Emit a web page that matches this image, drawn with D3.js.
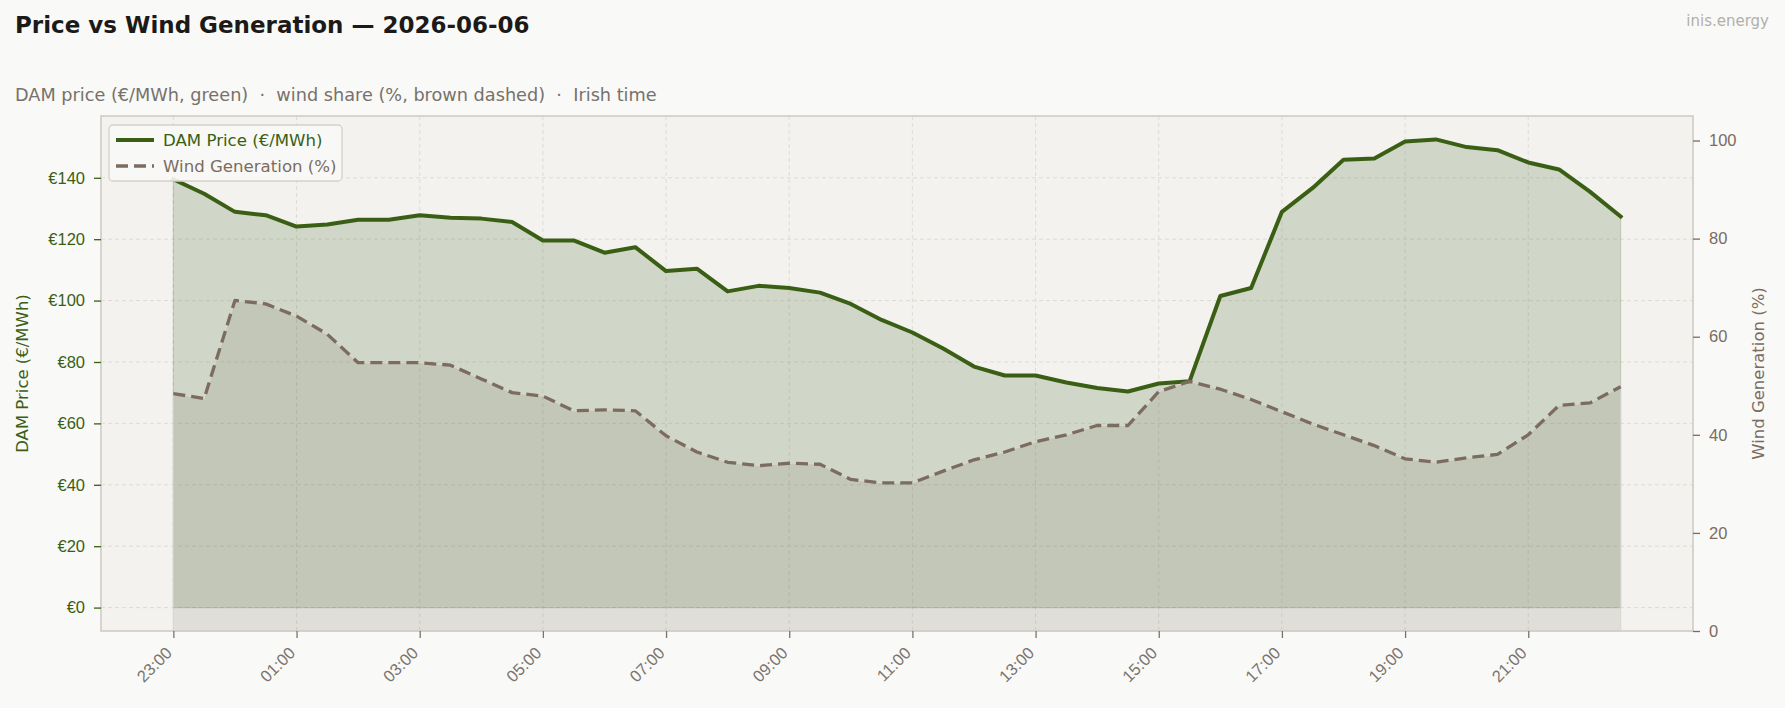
<!DOCTYPE html>
<meta charset="utf-8">
<html>
<head>
  <title>Price vs Wind Generation</title>
  <script src="https://cdn.jsdelivr.net/npm/d3@7"></script>
</head>
<style>
  body { margin: 0; background-color: #f9f9f7; }
  svg { display: block; font-family: 'DejaVu Sans', sans-serif; }
  .pre { white-space: pre; }
</style>
<body>
<div id="chart"></div>
<script>

  // half-hourly slots, Irish time
  var times = ["23:00","23:30","00:00","00:30","01:00","01:30","02:00","02:30",
               "03:00","03:30","04:00","04:30","05:00","05:30","06:00","06:30",
               "07:00","07:30","08:00","08:30","09:00","09:30","10:00","10:30",
               "11:00","11:30","12:00","12:30","13:00","13:30","14:00","14:30",
               "15:00","15:30","16:00","16:30","17:00","17:30","18:00","18:30",
               "19:00","19:30","20:00","20:30","21:00","21:30","22:00","22:30"];

  // DAM price, €/MWh
  var price = [139.5,134.8,128.9,127.8,124.1,124.8,126.3,126.3,
               127.8,127.0,126.7,125.6,119.6,119.6,115.6,117.4,
               109.6,110.4,103.0,104.8,104.1,102.6,98.9,93.7,
               89.6,84.4,78.5,75.6,75.6,73.3,71.5,70.4,
               73.0,73.7,101.5,104.1,128.9,136.7,145.9,146.3,
               151.8,152.5,150.0,149.0,145.0,142.7,135.5,127.4];

  // wind share of generation, %
  var wind = [48.4,47.4,67.4,66.7,64.2,60.5,54.7,54.7,
              54.7,54.2,51.4,48.6,47.9,44.9,45.1,44.9,
              39.8,36.5,34.4,33.7,34.2,34.0,30.9,30.2,
              30.2,32.6,34.9,36.5,38.6,40.0,41.9,41.9,
              48.8,50.9,49.3,47.2,44.7,42.2,40.0,37.8,
              35.1,34.4,35.3,36.0,40.0,46.0,46.5,49.8];

  var priceTicks = [0,20,40,60,80,100,120,140];
  var windTicks = [0,20,40,60,80,100];
  var xTickIdx = [0,4,8,12,16,20,24,28,32,36,40,44];

  var W = 1785, H = 708;
  var pLeft = 101, pRight = 1693, pTop = 116, pBottom = 631;

  var green = "#3a5f14", brown = "#7b6c5f";

  var svg = d3.select("#chart").append("svg")
      .attr("width", W)
      .attr("height", H);

  svg.append("rect").attr("width", W).attr("height", H).attr("fill", "#f9f9f7");

  //scales, with matplotlib style 5% margins
  var n = times.length - 1;
  var x = d3.scaleLinear().domain([-0.05*n, n*1.05]).range([pLeft, pRight]);
  var pMax = d3.max(price);
  var y = d3.scaleLinear().domain([-0.05*pMax, 1.05*pMax]).range([pBottom, pTop]);
  var y2 = d3.scaleLinear().domain([0, 105]).range([pBottom, pTop]);

  //plot background
  svg.append("rect")
    .attr("x", pLeft).attr("y", pTop)
    .attr("width", pRight-pLeft).attr("height", pBottom-pTop)
    .attr("fill", "#f3f2ef");

  //grid
  var grid = svg.append("g");
  grid.selectAll("vgrid")
    .data(xTickIdx)
    .enter()
      .append("line")
      .attr("x1", function(d) {return x(d);})
      .attr("x2", function(d) {return x(d);})
      .attr("y1", pTop).attr("y2", pBottom)
      .attr("stroke", "#ddd9d3")
      .attr("stroke-width", 0.9)
      .attr("stroke-dasharray", "4,3");
  grid.selectAll("hgrid")
    .data(priceTicks)
    .enter()
      .append("line")
      .attr("y1", function(d) {return y(d);})
      .attr("y2", function(d) {return y(d);})
      .attr("x1", pLeft).attr("x2", pRight)
      .attr("stroke", "#ddd9d3")
      .attr("stroke-width", 0.9)
      .attr("stroke-dasharray", "4,3");

  //areas
  var priceArea = d3.area()
      .x(function(d,i) {return x(i);})
      .y0(y(0))
      .y1(function(d) {return y(d);});
  svg.append("path")
    .datum(price)
    .attr("d", priceArea)
    .attr("fill", green)
    .attr("fill-opacity", 0.18)
    .attr("stroke", green)
    .attr("stroke-opacity", 0.18)
    .attr("stroke-width", 1.2);

  var priceLine = d3.line()
      .x(function(d,i) {return x(i);})
      .y(function(d) {return y(d);});
  svg.append("path")
    .datum(price)
    .attr("d", priceLine)
    .attr("fill", "none")
    .attr("stroke", green)
    .attr("stroke-width", 4)
    .attr("stroke-linejoin", "round")
    .attr("stroke-linecap", "square");

  var windArea = d3.area()
      .x(function(d,i) {return x(i);})
      .y0(y2(0))
      .y1(function(d) {return y2(d);});
  svg.append("path")
    .datum(wind)
    .attr("d", windArea)
    .attr("fill", "#786a5c")
    .attr("fill-opacity", 0.15)
    .attr("stroke", "#d8d6cf")
    .attr("stroke-opacity", 0.8)
    .attr("stroke-width", 1.2);

  var windLine = d3.line()
      .x(function(d,i) {return x(i);})
      .y(function(d) {return y2(d);});
  svg.append("path")
    .datum(wind)
    .attr("d", windLine)
    .attr("fill", "none")
    .attr("stroke", brown)
    .attr("stroke-width", 3.3)
    .attr("stroke-dasharray", "12,6")
    .attr("stroke-linejoin", "round");

  //frame
  svg.append("rect")
    .attr("x", pLeft).attr("y", pTop)
    .attr("width", pRight-pLeft).attr("height", pBottom-pTop)
    .attr("fill", "none")
    .attr("stroke", "#d1cbc4")
    .attr("stroke-width", 1.6);

  //axes
  var xAxis = svg.append("g")
    .attr("transform", "translate(0," + pBottom + ")")
    .call(d3.axisBottom(x).tickValues(xTickIdx).tickSize(7).tickFormat(function(d) {return times[d];}));
  xAxis.select(".domain").remove();
  xAxis.selectAll("line").attr("stroke", "#7a7470").attr("stroke-width", 1.3);
  xAxis.selectAll("text")
    .attr("fill", "#7a7470")
    .attr("font-size", 16.5)
    .attr("text-anchor", "end")
    .attr("x", 0)
    .attr("y", 0)
    .attr("dy", "0.35em")
    .attr("transform", "translate(-5,19) rotate(-45)");

  var yAxis = svg.append("g")
    .attr("transform", "translate(" + pLeft + ",0)")
    .call(d3.axisLeft(y).tickValues(priceTicks).tickSize(7).tickPadding(9).tickFormat(function(d) {return "€" + d;}));
  yAxis.select(".domain").remove();
  yAxis.selectAll("line").attr("stroke", green).attr("stroke-width", 1.3);
  yAxis.selectAll("text").attr("fill", green).attr("font-size", 16.5);

  var y2Axis = svg.append("g")
    .attr("transform", "translate(" + pRight + ",0)")
    .call(d3.axisRight(y2).tickValues(windTicks).tickSize(7).tickPadding(9));
  y2Axis.select(".domain").remove();
  y2Axis.selectAll("line").attr("stroke", brown).attr("stroke-width", 1.3);
  y2Axis.selectAll("text").attr("fill", brown).attr("font-size", 16.5);

  //axis titles
  svg.append("text")
    .attr("transform", "translate(28," + ((pTop+pBottom)/2) + ") rotate(-90)")
    .attr("text-anchor", "middle")
    .attr("fill", green)
    .attr("font-size", 16.5)
    .text("DAM Price (€/MWh)");

  svg.append("text")
    .attr("transform", "translate(1764," + ((pTop+pBottom)/2) + ") rotate(-90)")
    .attr("text-anchor", "middle")
    .attr("fill", brown)
    .attr("font-size", 16.5)
    .text("Wind Generation (%)");

  //titles
  svg.append("text")
    .attr("x", 15).attr("y", 33)
    .attr("font-size", 23)
    .attr("font-weight", "bold")
    .attr("fill", "#1c1a18")
    .text("Price vs Wind Generation — 2026-06-06");

  svg.append("text")
    .attr("class", "pre")
    .attr("x", 15).attr("y", 101)
    .attr("font-size", 17.7)
    .attr("fill", "#77716b")
    .text("DAM price (€/MWh, green)  ·  wind share (%, brown dashed)  ·  Irish time");

  svg.append("text")
    .attr("x", 1769).attr("y", 26)
    .attr("text-anchor", "end")
    .attr("font-size", 15)
    .attr("fill", "#b3afab")
    .text("inis.energy");

  //legend
  var legend = svg.append("g");
  legend.append("rect")
    .attr("x", 109).attr("y", 125)
    .attr("width", 233).attr("height", 56)
    .attr("rx", 4)
    .attr("fill", "#f8f8f6")
    .attr("fill-opacity", 0.9)
    .attr("stroke", "#d6d0ca")
    .attr("stroke-width", 1.3);
  legend.append("line")
    .attr("x1", 116).attr("x2", 154).attr("y1", 140).attr("y2", 140)
    .attr("stroke", green).attr("stroke-width", 4);
  legend.append("line")
    .attr("x1", 116).attr("x2", 154).attr("y1", 166).attr("y2", 166)
    .attr("stroke", brown).attr("stroke-width", 3.3).attr("stroke-dasharray", "12,6");
  legend.append("text")
    .attr("x", 163).attr("y", 146)
    .attr("font-size", 16.6)
    .attr("fill", green)
    .text("DAM Price (€/MWh)");
  legend.append("text")
    .attr("x", 163).attr("y", 172)
    .attr("font-size", 16.6)
    .attr("fill", brown)
    .text("Wind Generation (%)");

</script>
</body>
</html>
